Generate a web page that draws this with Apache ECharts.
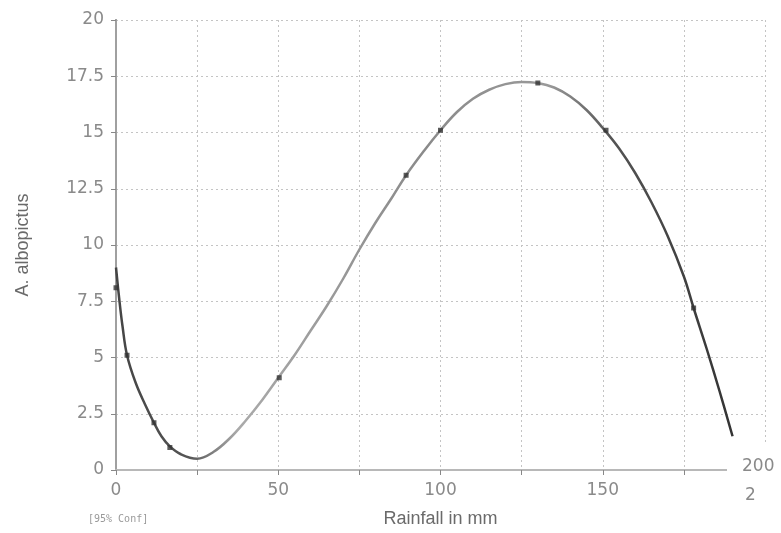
<!DOCTYPE html>
<html lang="en">
<head>
    <meta charset="UTF-8">
    <title>A. albopictus vs Rainfall</title>
    <script type="text/javascript" src="https://cdn.jsdelivr.net/npm/echarts@6/dist/echarts.min.js"></script>
    <style>
        html, body { margin:0; padding:0; background:#fff; }
    </style>
</head>
<body>
<div id="main" style="width:781px;height:533px;"></div>
<script type="text/javascript">
    // fitted curve
    var rainfall = [0, 1, 2, 3.4, 6, 9, 11.7, 14, 16.6, 20, 25, 30, 35, 40, 45, 50, 55, 60, 65, 70, 75,
        80, 85, 89.4, 95, 100, 105, 110, 115, 120, 125, 130, 135, 140, 145, 150, 155, 160, 165, 170,
        175, 178, 182, 186, 190];
    var albopictus = [9.0, 7.6, 6.4, 5.1, 3.9, 2.9, 2.1, 1.5, 1.05, 0.7, 0.5, 0.8, 1.4, 2.2, 3.1, 4.1, 5.1, 6.2, 7.3, 8.5, 9.8,
        11.0, 12.1, 13.1, 14.2, 15.1, 15.9, 16.5, 16.9, 17.15, 17.25, 17.2, 17.0, 16.6, 16.0, 15.2, 14.3, 13.2, 11.9, 10.4,
        8.6, 7.2, 5.4, 3.5, 1.5];
    // observed points (dark markers)
    var pointX = [0, 3.4, 11.7, 16.6, 50.3, 89.4, 100, 130, 151, 178];
    var pointY = [8.1, 5.1, 2.1, 1.0, 4.1, 13.1, 15.1, 17.2, 15.1, 7.2];

    var lineData = [];
    for (var i = 0; i < rainfall.length; i++) {
        lineData.push([rainfall[i], albopictus[i]]);
    }
    var pointData = [];
    for (var j = 0; j < pointX.length; j++) {
        pointData.push([pointX[j], pointY[j]]);
    }

    var tickColor = '#8a8a8a';
    var labelFont = 'DejaVu Sans';

    var myChart = echarts.init(document.getElementById('main'));
    var option = {
        animation: false,
        grid: { left: 116, top: 20, right: 16, bottom: 58 },
        xAxis: [{
            type: 'value',
            min: 0,
            max: 200,
            interval: 25,
            name: 'Rainfall in mm',
            nameLocation: 'middle',
            nameGap: 40,
            nameTextStyle: { color: '#6a6a6a', fontSize: 18, fontFamily: 'Liberation Sans' },
            axisLine: { show: true, lineStyle: { color: '#a0a0a0', width: 2 } },
            axisTick: { show: true, length: 5, lineStyle: { color: '#888' } },
            axisLabel: {
                color: tickColor, fontSize: 17, fontFamily: labelFont, margin: 12,
                formatter: function (v) { return (v % 50 === 0 && v < 200) ? String(v) : ''; }
            },
            splitLine: { show: true, lineStyle: { color: '#c4c4c4', type: [2, 3], width: 1 } }
        }, {
            type: 'value',
            position: 'top',
            min: 0,
            max: 200,
            axisLine: { show: true, lineStyle: { color: '#b8b8b8', width: 2 } },
            axisTick: { show: false },
            axisLabel: { show: false },
            splitLine: { show: false }
        }],
        yAxis: [{
            type: 'value',
            min: 0,
            max: 20,
            interval: 2.5,
            name: 'A. albopictus',
            nameLocation: 'middle',
            nameGap: 84,
            nameTextStyle: { color: '#6a6a6a', fontSize: 18, fontFamily: 'Liberation Sans' },
            axisLine: { show: true, lineStyle: { color: '#909090', width: 2 } },
            axisTick: { show: true, length: 5, lineStyle: { color: '#888' } },
            axisLabel: { color: tickColor, fontSize: 17, fontFamily: labelFont, margin: 12 },
            splitLine: { show: true, lineStyle: { color: '#c4c4c4', type: [2, 3], width: 1 } }
        }, {
            type: 'value',
            position: 'right',
            min: 0,
            max: 20,
            axisLine: { show: true, lineStyle: { color: '#a0a0a0', width: 2 } },
            axisTick: { show: false },
            axisLabel: { show: false },
            splitLine: { show: false }
        }],
        graphic: [
            // white gap at bottom-right, as in the original
            { type: 'rect', shape: { x: 727, y: 444, width: 54, height: 36 }, style: { fill: '#fff' }, z: 100 },
            { type: 'text', left: 742, top: 458, z: 110, style: { text: '200', fill: tickColor, font: '17px DejaVu Sans' } },
            { type: 'text', left: 745, top: 487, z: 110, style: { text: '2', fill: tickColor, font: '17px DejaVu Sans' } },
            { type: 'text', left: 88, top: 514, z: 110, style: { text: '[95% Conf]', fill: '#999', font: '10px DejaVu Sans Mono' } }
        ],
        series: [{
            type: 'line',
            data: lineData,
            smooth: 0.4,
            symbol: 'none',
            lineStyle: {
                width: 2.5,
                color: {
                    type: 'linear', x: 0, y: 0, x2: 1, y2: 0,
                    colorStops: [
                        { offset: 0, color: '#444' },
                        { offset: 0.12, color: '#555' },
                        { offset: 0.2, color: '#aaa' },
                        { offset: 0.5, color: '#8a8a8a' },
                        { offset: 0.7, color: '#9a9a9a' },
                        { offset: 0.8, color: '#555' },
                        { offset: 1, color: '#333' }
                    ]
                }
            },
            z: 3
        }, {
            type: 'scatter',
            data: pointData,
            symbol: 'rect',
            symbolSize: 5,
            itemStyle: { color: '#333' },
            z: 4
        }]
    };
    myChart.setOption(option);
</script>
</body>
</html>
